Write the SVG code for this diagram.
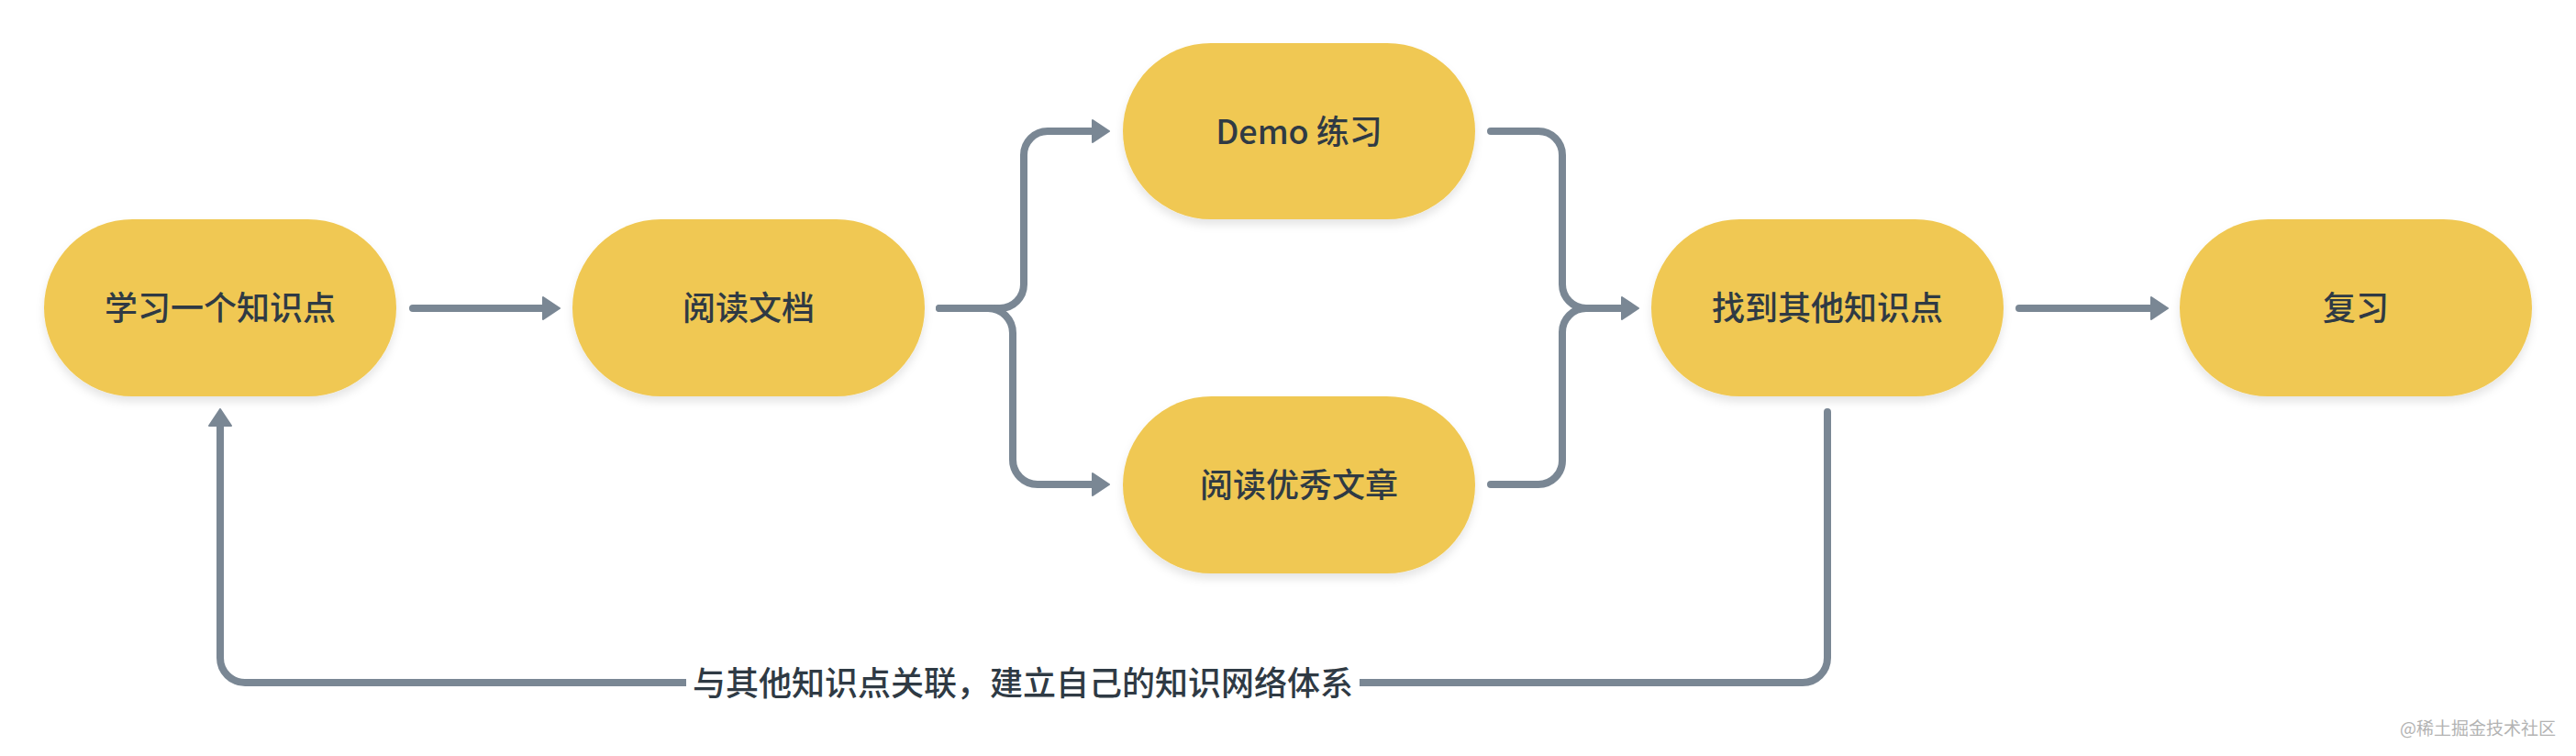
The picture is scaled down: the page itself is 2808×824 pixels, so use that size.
<svg xmlns="http://www.w3.org/2000/svg" width="2808" height="824" viewBox="0 0 2808 824">
  <style>
    .node rect { fill: #F0C853; filter: url(#shadow); }
    .node text { font-family: "Noto Sans CJK SC", "Noto Sans", sans-serif; font-size: 36px; font-weight: 500; fill: #2f3a44; text-anchor: middle; dominant-baseline: central; }
    .edge { fill: none; stroke: #7A8794; stroke-width: 8; stroke-linecap: round; stroke-linejoin: round; }
    .arrow { marker-end: url(#ah); }
    .label { font-family: "Noto Sans CJK SC", "Noto Sans", sans-serif; font-size: 36px; font-weight: 500; fill: #2f3a44; text-anchor: middle; dominant-baseline: central; }
    .wm { font-family: "Noto Sans CJK SC", "Noto Sans", sans-serif; font-size: 19px; fill: #b3b3b3; text-anchor: end; dominant-baseline: central; }
  </style>
  <defs>
    <filter id="shadow" x="-10%" y="-10%" width="120%" height="130%">
      <feDropShadow dx="0" dy="6" stdDeviation="5" flood-color="#000" flood-opacity="0.1"/>
    </filter>
    <marker id="ah" markerUnits="userSpaceOnUse" viewBox="0 0 20 26" markerWidth="20" markerHeight="26" refX="1" refY="13" orient="auto">
      <path d="M1,1 L19,13 L1,25 Z" fill="#7A8794" stroke="#7A8794" stroke-width="2" stroke-linejoin="round"/>
    </marker>
  </defs>
  <rect width="2808" height="824" fill="#ffffff"/>

  <g id="connectors">
    <path class="edge arrow" d="M450,336 H592"/>
    <path class="edge arrow" d="M1024,336 H1090 A26,26 0 0 0 1116,310 V169 A26,26 0 0 1 1142,143 H1191"/>
    <path class="edge arrow" d="M1024,336 H1077 A27,27 0 0 1 1104,363 V501 A27,27 0 0 0 1131,528 H1191"/>
    <path class="edge arrow" d="M1625,143 H1677 A26,26 0 0 1 1703,169 V310 A26,26 0 0 0 1729,336 H1768"/>
    <path class="edge" d="M1625,528 H1677 A26,26 0 0 0 1703,502 V362 A26,26 0 0 1 1729,336"/>
    <path class="edge arrow" d="M2201,336 H2345"/>
    <path class="edge arrow" d="M1992,449 V717 A27,27 0 0 1 1965,744 H267 A27,27 0 0 1 240,717 V464"/>
    <g id="edge-label">
      <rect x="748" y="720" width="734" height="48" fill="#ffffff"/>
      <text class="label" x="1115" y="742">与其他知识点关联，建立自己的知识网络体系</text>
    </g>
  </g>

  <g id="n1" class="node">
    <rect x="48" y="239" width="384" height="193" rx="96.5"/>
    <text x="240" y="333">学习一个知识点</text>
  </g>
  <g id="n2" class="node">
    <rect x="624" y="239" width="384" height="193" rx="96.5"/>
    <text x="816" y="333">阅读文档</text>
  </g>
  <g id="n3" class="node">
    <rect x="1224" y="47" width="384" height="192" rx="96"/>
    <text x="1416" y="141">Demo 练习</text>
  </g>
  <g id="n4" class="node">
    <rect x="1224" y="432" width="384" height="193" rx="96.5"/>
    <text x="1416" y="526">阅读优秀文章</text>
  </g>
  <g id="n5" class="node">
    <rect x="1800" y="239" width="384" height="193" rx="96.5"/>
    <text x="1992" y="333">找到其他知识点</text>
  </g>
  <g id="n6" class="node">
    <rect x="2376" y="239" width="384" height="193" rx="96.5"/>
    <text x="2568" y="333">复习</text>
  </g>

  <text class="wm" x="2786" y="792">@稀土掘金技术社区</text>
</svg>
